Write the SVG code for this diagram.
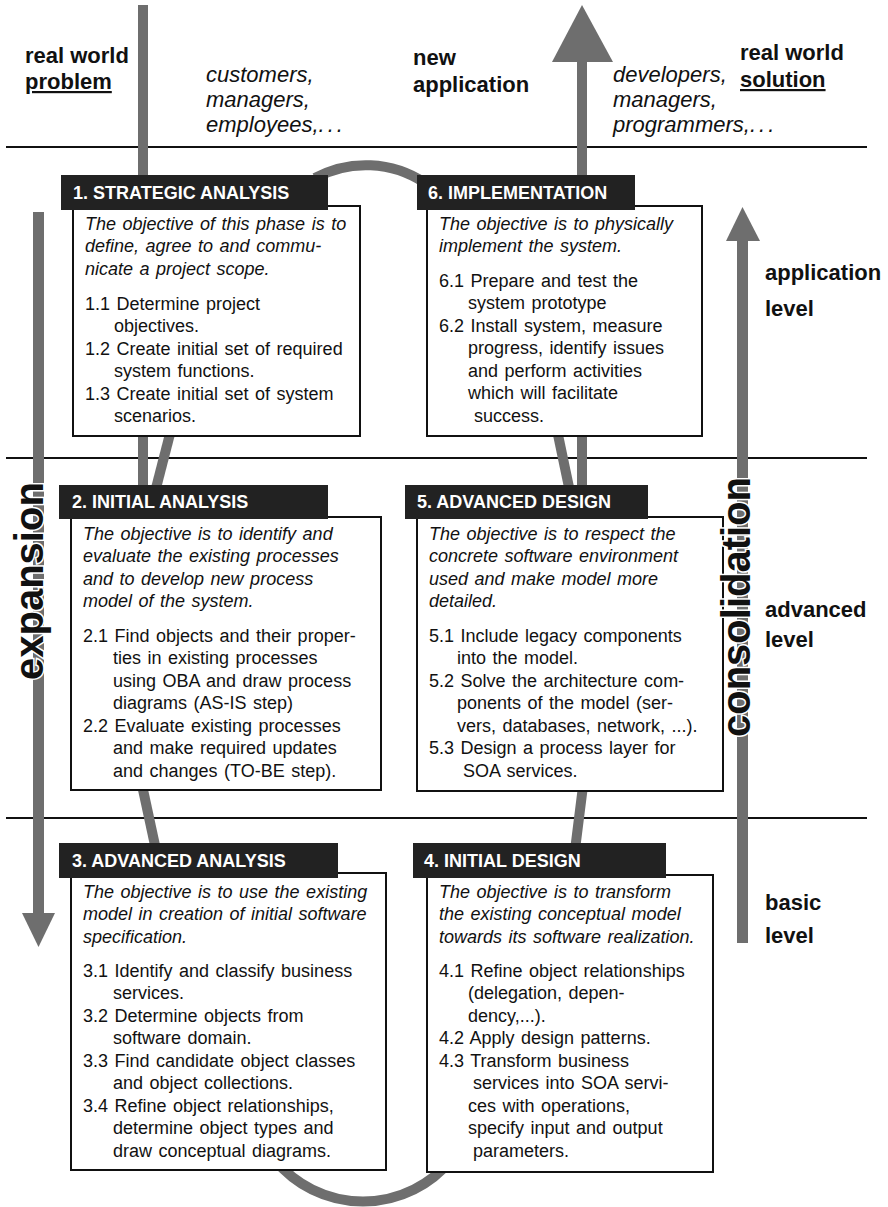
<svg xmlns="http://www.w3.org/2000/svg" width="888" height="1207" viewBox="0 0 888 1207">
<style>
.bg{fill:#fff}
.rule{stroke:#111;stroke-width:2}
.flow{stroke:#6e6e6e;stroke-width:10;fill:none}
.gray{fill:#6e6e6e}
.hdr{fill:#222}
.box{fill:#fff;stroke:#111;stroke-width:2}
.ht{font-family:"Liberation Sans",Arial,sans-serif;font-weight:bold;font-size:18px;fill:#fff}
.it{font-family:"Liberation Sans",Arial,sans-serif;font-style:italic;font-size:18px;fill:#111;word-spacing:1.5px}
.tx{font-family:"Liberation Sans",Arial,sans-serif;font-size:18px;fill:#111;word-spacing:1.5px}
.lbl{font-family:"Liberation Sans",Arial,sans-serif;font-weight:bold;font-size:22px;fill:#111}
.ppl{font-family:"Liberation Sans",Arial,sans-serif;font-style:italic;font-size:22px;fill:#111}
.dots{letter-spacing:3px}
.big{font-family:"Liberation Sans",Arial,sans-serif;font-weight:bold;font-size:40px;fill:#111;stroke:#fff;stroke-width:3;paint-order:stroke}
</style>
<rect class="bg" x="0" y="0" width="888" height="1207"/>
<g id="levels">
<line class="rule" x1="6" y1="147" x2="867" y2="147"/>
<line class="rule" x1="6" y1="458" x2="867" y2="458"/>
<line class="rule" x1="6" y1="818" x2="867" y2="818"/>
</g>
<g id="top-labels">
<text class="lbl" x="25" y="63">real world</text>
<text class="lbl" x="25" y="89" text-decoration="underline">problem</text>
<text class="ppl" x="206" y="82">customers,</text>
<text class="ppl" x="206" y="107">managers,</text>
<text class="ppl" x="206" y="132">employees,<tspan class="dots">...</tspan></text>
<text class="lbl" x="413" y="65">new</text>
<text class="lbl" x="413" y="92">application</text>
<text class="ppl" x="613" y="82">developers,</text>
<text class="ppl" x="613" y="107">managers,</text>
<text class="ppl" x="613" y="132">programmers,<tspan class="dots">...</tspan></text>
<text class="lbl" x="740" y="60">real world</text>
<text class="lbl" x="740" y="87" text-decoration="underline">solution</text>
</g>
<g id="connectors">
<line class="flow" x1="143" y1="5" x2="143" y2="495"/>
<path class="flow" d="M315,178 A107,107 0 0,1 425,183"/>
<line class="flow" x1="171" y1="430" x2="155" y2="492"/>
<line class="flow" x1="142" y1="785" x2="156" y2="850"/>
<path class="flow" d="M275,1160 A114,114 0 0,0 451,1160"/>
<line class="flow" x1="583" y1="786" x2="575" y2="850"/>
<line class="flow" x1="557" y1="430" x2="570" y2="492"/>
<line class="flow" x1="582" y1="60" x2="582" y2="492"/>
<polygon class="gray" points="552,62 613,62 582,5"/>
</g>
<g id="n1">
<rect class="box" x="73" y="206" width="287" height="230"/>
<rect class="hdr" x="61" y="175" width="267" height="35"/>
<text class="ht" x="73" y="199">1. STRATEGIC ANALYSIS</text>
<text class="it" x="85" y="230">The objective of this phase is to</text>
<text class="it" x="85" y="252">define, agree to and commu-</text>
<text class="it" x="85" y="275">nicate a project scope.</text>
<text class="tx" x="85" y="310">1.1 Determine project</text>
<text class="tx" x="114" y="332">objectives.</text>
<text class="tx" x="85" y="355">1.2 Create initial set of required</text>
<text class="tx" x="114" y="377">system functions.</text>
<text class="tx" x="85" y="400">1.3 Create initial set of system</text>
<text class="tx" x="114" y="422">scenarios.</text>
</g>
<g id="n6">
<rect class="box" x="427" y="206" width="275" height="230"/>
<rect class="hdr" x="417" y="175" width="218" height="35"/>
<text class="ht" x="428" y="199">6. IMPLEMENTATION</text>
<text class="it" x="439" y="230">The objective is to physically</text>
<text class="it" x="439" y="252">implement the system.</text>
<text class="tx" x="439" y="287">6.1 Prepare and test the</text>
<text class="tx" x="468" y="309">system prototype</text>
<text class="tx" x="439" y="332">6.2 Install system, measure</text>
<text class="tx" x="468" y="354">progress, identify issues</text>
<text class="tx" x="468" y="377">and perform activities</text>
<text class="tx" x="468" y="399">which will facilitate</text>
<text class="tx" x="474" y="422">success.</text>
</g>
<g id="n2">
<rect class="box" x="71" y="517" width="310" height="273"/>
<rect class="hdr" x="59" y="485" width="269" height="34"/>
<text class="ht" x="72" y="508">2. INITIAL ANALYSIS</text>
<text class="it" x="83" y="540">The objective is to identify and</text>
<text class="it" x="83" y="562">evaluate the existing processes</text>
<text class="it" x="83" y="585">and to develop new process</text>
<text class="it" x="83" y="607">model of the system.</text>
<text class="tx" x="83" y="642">2.1 Find objects and their proper-</text>
<text class="tx" x="113" y="664">ties in existing processes</text>
<text class="tx" x="113" y="687">using OBA and draw process</text>
<text class="tx" x="113" y="709">diagrams (AS-IS step)</text>
<text class="tx" x="83" y="732">2.2 Evaluate existing processes</text>
<text class="tx" x="113" y="754">and make required updates</text>
<text class="tx" x="113" y="777">and changes (TO-BE step).</text>
</g>
<g id="n5">
<rect class="box" x="417" y="517" width="306" height="274"/>
<rect class="hdr" x="405" y="485" width="243" height="34"/>
<text class="ht" x="417" y="508">5. ADVANCED DESIGN</text>
<text class="it" x="429" y="540">The objective is to respect the</text>
<text class="it" x="429" y="562">concrete software environment</text>
<text class="it" x="429" y="585">used and make model more</text>
<text class="it" x="429" y="607">detailed.</text>
<text class="tx" x="429" y="642">5.1 Include legacy components</text>
<text class="tx" x="457" y="664">into the model.</text>
<text class="tx" x="429" y="687">5.2 Solve the architecture com-</text>
<text class="tx" x="457" y="709">ponents of the model (ser-</text>
<text class="tx" x="457" y="732">vers, databases, network, ...).</text>
<text class="tx" x="429" y="754">5.3 Design a process layer for</text>
<text class="tx" x="463" y="777">SOA services.</text>
</g>
<g id="n3">
<rect class="box" x="71" y="873" width="315" height="297"/>
<rect class="hdr" x="59" y="843" width="279" height="35"/>
<text class="ht" x="72" y="867">3. ADVANCED ANALYSIS</text>
<text class="it" x="83" y="898">The objective is to use the existing</text>
<text class="it" x="83" y="920">model in creation of initial software</text>
<text class="it" x="83" y="943">specification.</text>
<text class="tx" x="83" y="977">3.1 Identify and classify business</text>
<text class="tx" x="113" y="999">services.</text>
<text class="tx" x="83" y="1022">3.2 Determine objects from</text>
<text class="tx" x="113" y="1044">software domain.</text>
<text class="tx" x="83" y="1067">3.3 Find candidate object classes</text>
<text class="tx" x="113" y="1089">and object collections.</text>
<text class="tx" x="83" y="1112">3.4 Refine object relationships,</text>
<text class="tx" x="113" y="1134">determine object types and</text>
<text class="tx" x="113" y="1157">draw conceptual diagrams.</text>
</g>
<g id="n4">
<rect class="box" x="427" y="875" width="286" height="297"/>
<rect class="hdr" x="413" y="843" width="253" height="35"/>
<text class="ht" x="424" y="867">4. INITIAL DESIGN</text>
<text class="it" x="439" y="898">The objective is to transform</text>
<text class="it" x="439" y="920">the existing conceptual model</text>
<text class="it" x="439" y="943">towards its software realization.</text>
<text class="tx" x="439" y="977">4.1 Refine object relationships</text>
<text class="tx" x="468" y="999">(delegation, depen-</text>
<text class="tx" x="468" y="1022">dency,...).</text>
<text class="tx" x="439" y="1044">4.2 Apply design patterns.</text>
<text class="tx" x="439" y="1067">4.3 Transform business</text>
<text class="tx" x="473" y="1089">services into SOA servi-</text>
<text class="tx" x="468" y="1112">ces with operations,</text>
<text class="tx" x="468" y="1134">specify input and output</text>
<text class="tx" x="473" y="1157">parameters.</text>
</g>
<g id="expansion">
<rect class="gray" x="33" y="212" width="11" height="701"/>
<polygon class="gray" points="22,913 55,913 38.5,947"/>
<text class="big" transform="translate(43,680) rotate(-90)">expansion</text>
</g>
<g id="consolidation">
<rect class="gray" x="737" y="241" width="11" height="702"/>
<polygon class="gray" points="726,241 760,241 742.5,207"/>
<text class="big" transform="translate(750,737) rotate(-90)">consolidation</text>
</g>
<g id="level-labels">
<text class="lbl" x="765" y="280">application</text>
<text class="lbl" x="765" y="316">level</text>
<text class="lbl" x="765" y="617">advanced</text>
<text class="lbl" x="765" y="647">level</text>
<text class="lbl" x="765" y="910">basic</text>
<text class="lbl" x="765" y="943">level</text>
</g>
</svg>
